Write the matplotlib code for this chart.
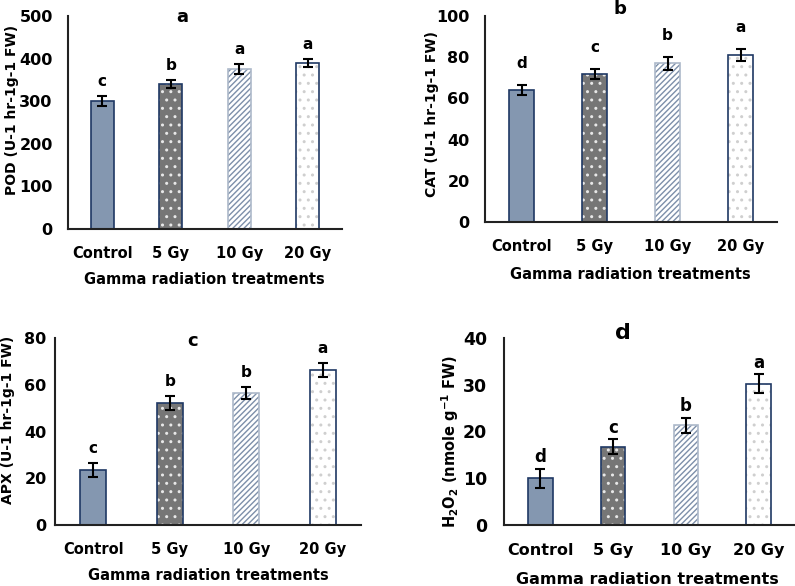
import matplotlib
matplotlib.use("Agg")
import matplotlib.pyplot as plt

plt.rcParams['font.family'] = ['DejaVu Sans']
plt.rcParams['font.weight'] = 'bold'
plt.rcParams['hatch.linewidth'] = 1.0

treatments = ["Control", "5 Gy", "10 Gy", "20 Gy"]

pod = [300, 340, 375, 390]
pod_err = [12, 9, 12, 10]
pod_letters = ["c", "b", "a", "a"]

cat = [64, 72, 77, 81]
cat_err = [2.5, 2.5, 3, 3]
cat_letters = ["d", "c", "b", "a"]

apx = [23.5, 52, 56.5, 66.5]
apx_err = [3, 3, 2.5, 3]
apx_letters = ["c", "b", "b", "a"]

h2o2 = [10, 16.7, 21.3, 30.2]
h2o2_err = [2, 1.6, 1.6, 2]
h2o2_letters = ["d", "c", "b", "a"]

W, H = 795, 586
fig = plt.figure(figsize=(W / 100, H / 100), dpi=100)

navy = "#1f3864"
slate = "#8497b0"


def px_axes(left, right, top, bottom):
    return fig.add_axes([left / W, 1 - bottom / H, (right - left) / W, (bottom - top) / H])


def draw_bars(ax, vals, errs, letters, ymax, step, tick_fs, ytick_pad, xtick_pad, let_off):
    x = range(len(vals))
    bw = 0.34
    # control - solid slate blue
    ax.bar(0, vals[0], bw, color=slate, edgecolor=navy, linewidth=1.2)
    # 5 Gy - gray with white dots
    ax.bar(1, vals[1], bw, color="#767676", edgecolor="#e8e8e8", hatch="..", linewidth=0)
    ax.bar(1, vals[1], bw, fill=False, edgecolor=navy, linewidth=1.2)
    # 10 Gy - diagonal stripes
    ax.bar(2, vals[2], bw, color="white", edgecolor="#7d8fa9", hatch="//////", linewidth=0)
    ax.bar(2, vals[2], bw, fill=False, edgecolor="#adb9ca", linewidth=1.2)
    # 20 Gy - white with sparse gray dots
    ax.bar(3, vals[3], bw, color="white", edgecolor="#cfcfcf", hatch="..", linewidth=0)
    ax.bar(3, vals[3], bw, fill=False, edgecolor=navy, linewidth=1.2)

    ax.errorbar(list(x), vals, yerr=errs, fmt="none", ecolor="black",
                elinewidth=1.5, capsize=3.5, capthick=1.5)
    for i in x:
        ax.annotate(letters[i], (i, vals[i] + errs[i]), xytext=(0, let_off),
                    textcoords="offset points", ha="center", va="bottom",
                    fontsize=tick_fs + 0.5, fontweight="bold")

    ax.set_xlim(-0.5, 3.5)
    ax.set_ylim(0, ymax)
    ax.set_yticks(range(0, ymax + 1, step))
    ax.set_xticks(list(x))
    ax.set_xticklabels(treatments, fontweight="bold")
    ax.set_yticklabels([str(v) for v in range(0, ymax + 1, step)], fontweight="bold")
    ax.tick_params(axis="y", length=0, pad=ytick_pad, labelsize=tick_fs + 1)
    ax.tick_params(axis="x", length=0, pad=xtick_pad, labelsize=tick_fs)
    for s in ["top", "right"]:
        ax.spines[s].set_visible(False)
    for s in ["left", "bottom"]:
        ax.spines[s].set_linewidth(1.5)
        ax.spines[s].set_color("#222222")


ax_a = px_axes(68, 342, 16, 229)
draw_bars(ax_a, pod, pod_err, pod_letters, 500, 100, 10.5, 11, 12, 5)
ax_b = px_axes(485, 777, 16, 222)
draw_bars(ax_b, cat, cat_err, cat_letters, 100, 20, 10.5, 11, 12, 10)
ax_c = px_axes(55, 361, 338, 525)
draw_bars(ax_c, apx, apx_err, apx_letters, 80, 20, 10.5, 6, 12, 5)
ax_d = px_axes(504, 795, 338, 525)
draw_bars(ax_d, h2o2, h2o2_err, h2o2_letters, 40, 10, 11.5, 12, 13, 2)


def ftext(x, y, s, **kw):
    fig.text(x / W, 1 - y / H, s, ha="center", va="center", fontweight="bold", **kw)


# panel letters
ftext(182, 17, "a", fontsize=13)
ftext(620, 9, "b", fontsize=13)
ftext(193, 341, "c", fontsize=13)
ftext(623, 333, "d", fontsize=16)

# axis titles
ftext(204, 280, "Gamma radiation treatments", fontsize=10.5)
ftext(630, 274, "Gamma radiation treatments", fontsize=10.5)
ftext(208, 576, "Gamma radiation treatments", fontsize=10.5)
ftext(647, 580, "Gamma radiation treatments", fontsize=11.5)

ftext(12, 110, "POD (U-1 hr-1g-1 FW)", fontsize=10, rotation=90)
ftext(432, 114, "CAT (U-1 hr-1g-1 FW)", fontsize=10, rotation=90)
ftext(8, 420, "APX (U-1 hr-1g-1 FW)", fontsize=10, rotation=90)
ftext(450, 442, r"H$_\mathbf{2}$O$_\mathbf{2}$ (nmole g$^{\mathbf{-1}}$ FW)", fontsize=10.5, rotation=90)

fig.savefig("out.png", dpi=100)
